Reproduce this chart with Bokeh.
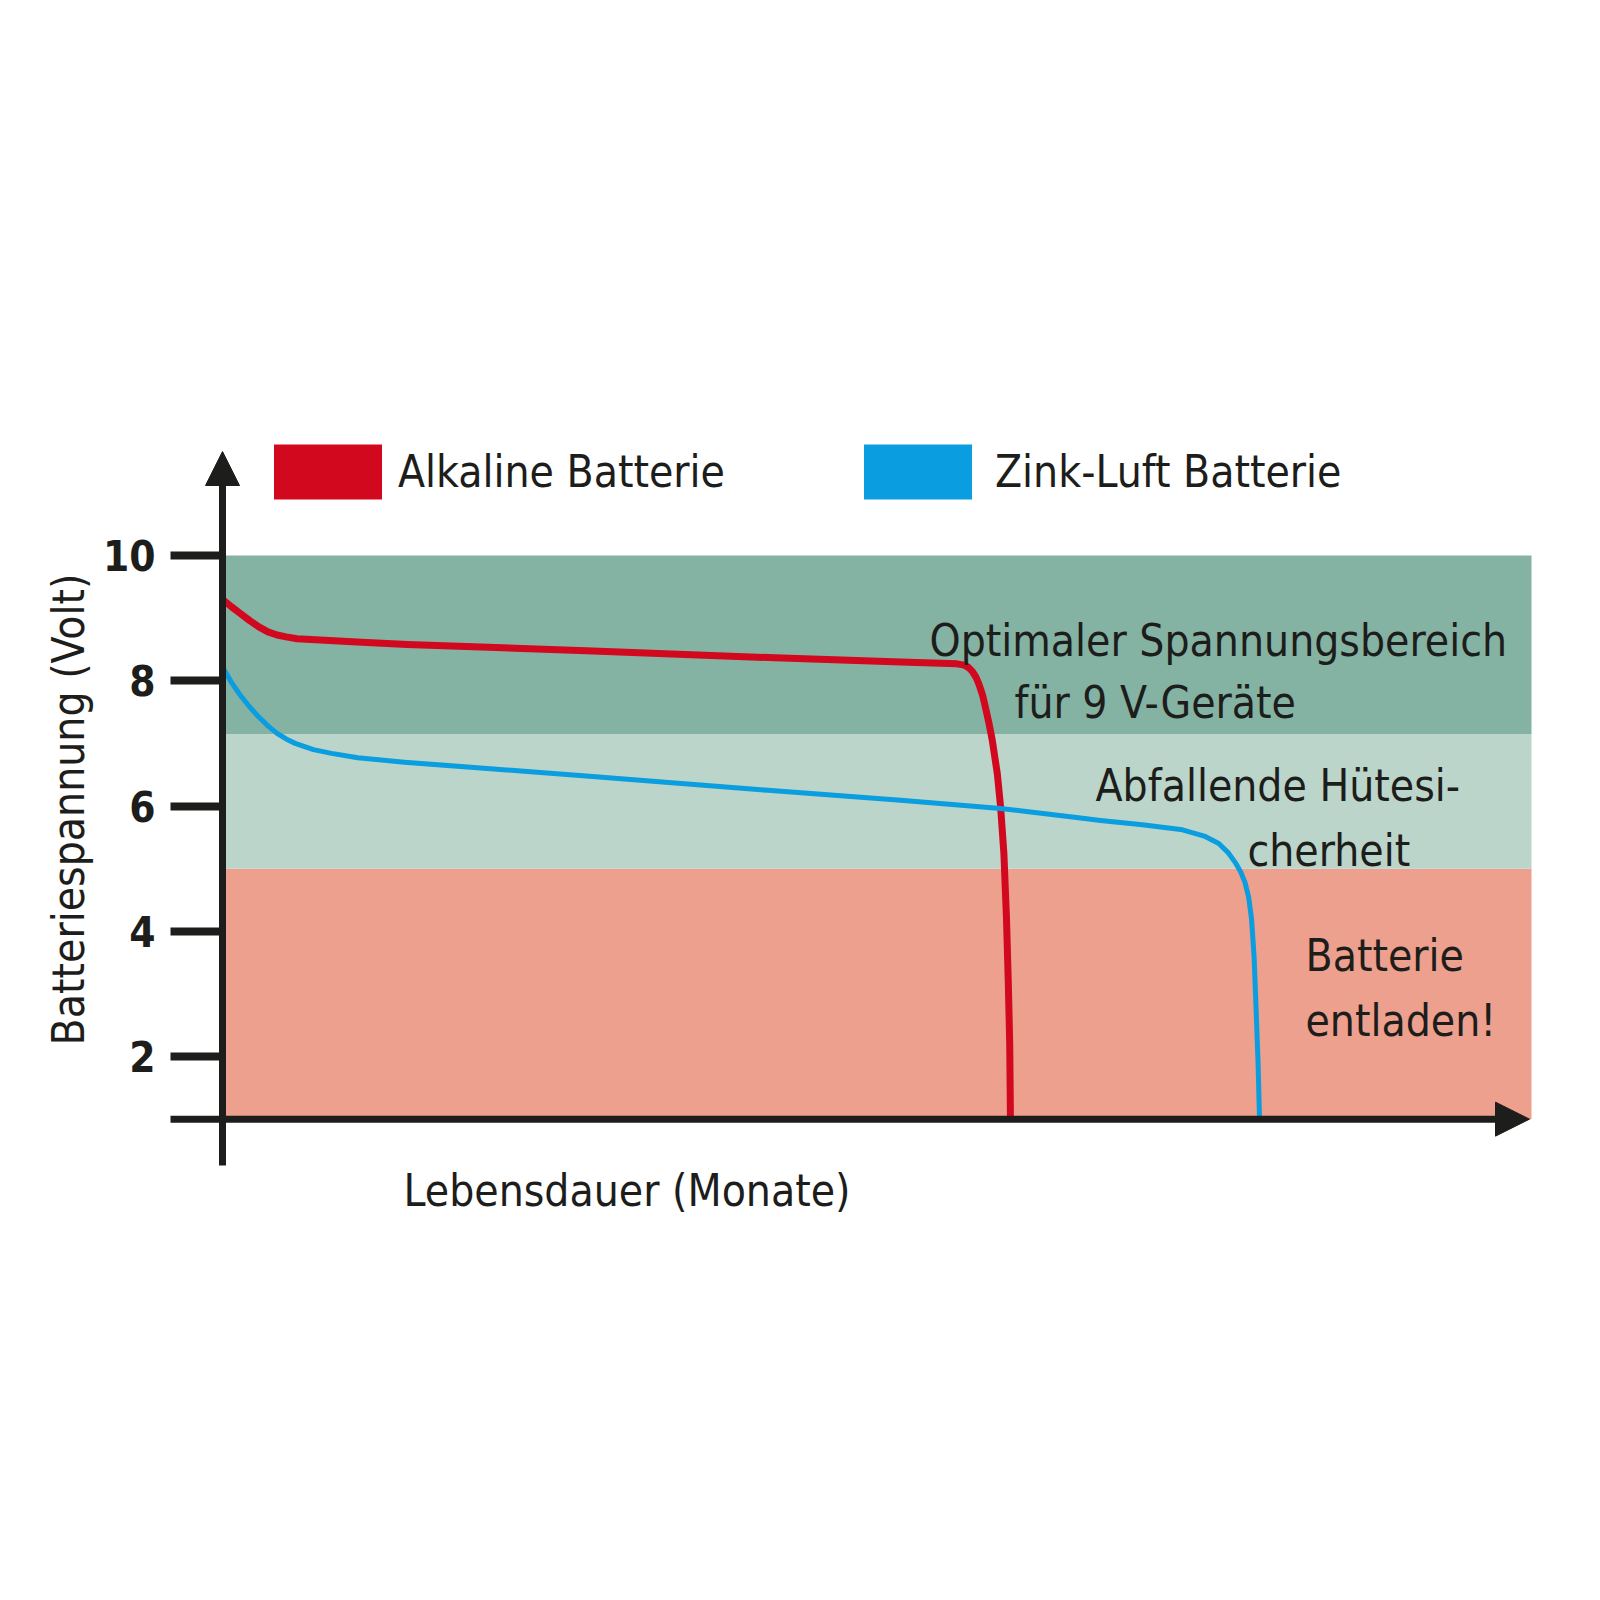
from bokeh.plotting import figure
from bokeh.models import (Range1d, LinearAxis, FixedTicker, Arrow, NormalHead,
                          Label, Legend, LegendItem, ColumnDataSource)
from bokeh.embed import file_html
from bokeh.resources import INLINE

# ---------------- data ----------------
alk_x = [0.0, 0.25, 0.5, 0.75, 1.0, 1.25, 1.5, 1.75, 2.05, 3.7, 5.08, 10.0, 15.0, 18.65,
         20.2, 20.4, 20.52, 20.62, 20.72, 20.8, 20.9, 20.98, 21.08, 21.17, 21.31, 21.40,
         21.49, 21.56, 21.61, 21.65, 21.67]
alk_y = [9.30, 9.18, 9.07, 8.96, 8.86, 8.78, 8.73, 8.70, 8.67, 8.62, 8.58, 8.48, 8.37, 8.30,
         8.27, 8.25, 8.21, 8.15, 8.06, 7.95, 7.78, 7.58, 7.32, 7.05, 6.51, 5.98,
         5.24, 4.22, 3.2, 2.2, 1.0]

zn_x = [0.0, 0.25, 0.5, 0.75, 1.0, 1.25, 1.5, 1.75, 2.0, 2.5, 3.0, 3.72, 5.0, 10.0, 15.0,
        18.65, 21.40, 23.6, 24.15, 25.3, 26.4, 27.0, 27.4, 27.65, 27.85, 28.0, 28.12,
        28.22, 28.3, 28.37, 28.43, 28.48, 28.52]
zn_y = [8.22, 7.97, 7.76, 7.58, 7.42, 7.28, 7.16, 7.07, 7.00, 6.90, 6.84, 6.77, 6.70, 6.48,
        6.25, 6.09, 5.96, 5.81, 5.77, 5.70, 5.62, 5.52, 5.40, 5.26, 5.10, 4.95, 4.78,
        4.55, 4.20, 3.60, 2.70, 1.90, 1.0]

band_bottom = [1.0, 5.0, 7.15]
band_top = [5.0, 7.15, 10.0]
band_colors = ["#eca08d", "#bbd5ca", "#84b2a3"]
x_max = 36.0
y_ticks = [2, 4, 6, 8, 10]

series_labels = ["Alkaline Batterie", "Zink-Luft Batterie"]
series_colors = ["#d2081f", "#0a9de0"]

notes = ["Optimaler Spannungsbereich", "für 9 V-Geräte", "Abfallende Hütesi-",
         "cherheit", "Batterie", "entladen!"]
x_title = "Lebensdauer (Monate)"
y_title = "Batteriespannung (Volt)"

# ---------------- layout ----------------
FONT = "DejaVu Sans Condensed, Roboto Condensed, Roboto"
FS = "44px"
INK = "#1d1d1b"
W = H = 1584
# pixel anchors: x=0 -> 222, x=36 -> 1531 ; y=10 -> 555, y=2 -> 1056
px_per_x = (1531 - 222) / x_max
px_per_y = (1056 - 555) / 8.0
x0_px, y10_px = 222, 555
xr = Range1d(-x0_px / px_per_x, (W - x0_px) / px_per_x)
yr = Range1d(10 - (H - y10_px) / px_per_y, 10 + y10_px / px_per_y)


def dx(px):
    return (px - x0_px) / px_per_x


def dy(py):
    return 10 - (py - y10_px) / px_per_y


p = figure(width=W, height=H, output_backend="svg", toolbar_location=None,
           x_range=xr, y_range=yr, x_axis_location=None, y_axis_location=None,
           min_border=0)
p.grid.visible = False
p.outline_line_color = None
p.background_fill_color = "white"

bands = ColumnDataSource(dict(bottom=band_bottom, top=band_top, color=band_colors))

# legend swatches: hidden renderers, only used by the legends
swatches = [p.quad(left=0, right=x_max, bottom="bottom", top="top", source=bands,
                   fill_color=c, line_color=None, visible=False) for c in series_colors]

p.quad(left=0, right=x_max, bottom="bottom", top="top", fill_color="color",
       line_color=None, source=bands)

p.line(alk_x, alk_y, line_color=series_colors[0], line_width=7, line_join="round")
p.line(zn_x, zn_y, line_color=series_colors[1], line_width=5, line_join="round")

# legend: the swatch is drawn with a 10% inset inside the glyph box
GW, GH = 135, 69
CENTER_Y = 471
for (sx, tx), lab, r in zip([(274, 398), (863, 995)], series_labels, swatches):
    gx = int(round(sx - 0.1 * GW))
    p.add_layout(Legend(items=[LegendItem(label=lab, renderers=[r])],
                        location=(gx, int(round(H - (CENTER_Y + GH / 2)))),
                        glyph_width=GW, glyph_height=GH, label_height=GH,
                        label_standoff=int(tx - gx - GW), padding=0, margin=0,
                        border_line_color=None, background_fill_alpha=0,
                        inactive_fill_alpha=0,
                        label_text_font=FONT, label_text_font_size=FS,
                        label_text_baseline="middle", label_text_color=INK))

# y axis ticks/labels
yaxis = LinearAxis(fixed_location=0, ticker=FixedTicker(ticks=y_ticks),
                   axis_line_color=None, major_tick_out=52, major_tick_in=0,
                   major_tick_line_width=8, major_tick_line_color=INK,
                   minor_tick_line_color=None,
                   major_label_text_font=FONT, major_label_text_font_style="bold",
                   major_label_text_font_size="42px", major_label_text_color=INK,
                   major_label_standoff=15,
                   axis_label=y_title, axis_label_text_font=FONT,
                   axis_label_text_font_size=FS, axis_label_text_font_style="normal",
                   axis_label_text_color=INK, axis_label_standoff=6,
                   bounds=(1, 2 * dy(809) - 1))
p.add_layout(yaxis, "left")

# axis arrows
p.add_layout(Arrow(x_start=0, y_start=dy(1165), x_end=0, y_end=dy(451),
                   line_width=7, line_color=INK,
                   end=NormalHead(size=34, fill_color=INK, line_color=INK, line_width=1)))
p.add_layout(Arrow(x_start=dx(170), y_start=1, x_end=dx(1529), y_end=1,
                   line_width=7, line_color=INK,
                   end=NormalHead(size=34, fill_color=INK, line_color=INK, line_width=1)))

# annotation texts
note_pos = [(929, 640), (1014, 702), (1095, 785), (1247, 850), (1305, 955), (1305, 1020)]
for t, (px, py) in zip(notes, note_pos):
    p.add_layout(Label(x=dx(px), y=dy(py), text=t, text_font=FONT, text_font_size=FS,
                       text_color=INK, text_baseline="alphabetic", text_align="left"))
p.add_layout(Label(x=dx(403), y=dy(1190), text=x_title, text_font=FONT,
                   text_font_size=FS, text_color=INK, text_baseline="alphabetic",
                   text_align="left"))

open("out.html", "w").write(file_html(p, INLINE))
